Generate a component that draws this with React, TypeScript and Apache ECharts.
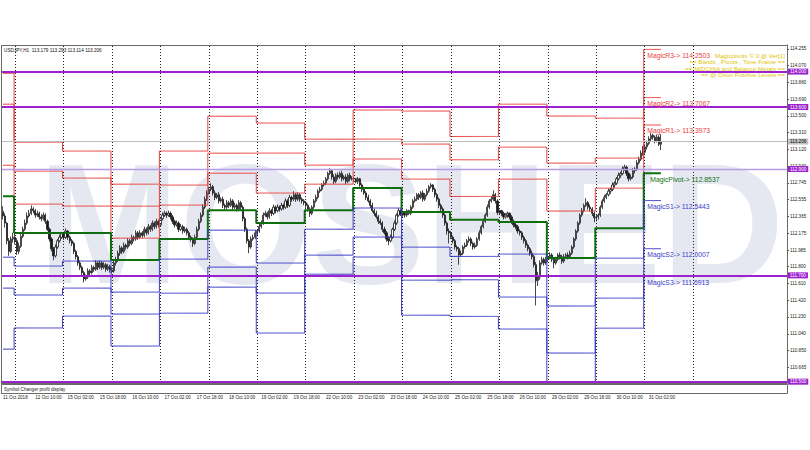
import React, { useEffect, useRef } from "react";
import * as echarts from "echarts";

const FONT = '"Liberation Sans", Arial, sans-serif';

// ---- candles (H1, 11 Oct 2018 18:00 .. 31 Oct 2018 08:00) ----
const firstOpen = 112.42;
const closes = [
  112.37,112.29,112.09,111.97,112.11,112.13,
  112.09,111.97,112.03,112.14,112.22,112.29,112.37,112.40,112.45,112.43,112.38,112.40,112.36,112.34,112.38,112.31,112.22,112.11,112.00,111.92,112.02,112.09,112.13,112.17,
  112.13,112.20,112.13,112.09,112.06,111.97,111.91,111.84,111.79,111.73,111.66,111.68,111.75,111.73,111.79,111.77,111.84,111.79,111.84,111.79,111.82,111.77,111.80,111.76,
  111.75,111.84,111.88,111.95,112.01,111.97,112.04,112.02,112.09,112.06,112.13,112.11,112.18,112.13,112.18,112.15,112.22,112.18,112.25,112.22,112.29,112.25,112.31,112.27,
  112.34,112.38,112.40,112.38,112.40,112.36,112.31,112.27,112.29,112.22,112.25,112.20,112.22,112.18,112.13,112.11,112.06,112.13,112.22,112.31,112.38,112.47,112.56,112.63,
  112.67,112.70,112.63,112.58,112.61,112.54,112.56,112.49,112.47,112.52,112.49,112.54,112.47,112.49,112.45,112.52,112.47,112.34,112.22,112.09,112.02,112.11,112.13,112.18,
  112.20,112.25,112.29,112.38,112.40,112.36,112.43,112.40,112.47,112.43,112.47,112.45,112.49,112.47,112.54,112.49,112.58,112.56,112.61,112.56,112.61,112.56,112.54,112.52,
  112.49,112.45,112.40,112.47,112.54,112.58,112.65,112.67,112.72,112.74,112.79,112.85,112.88,112.81,112.76,112.83,112.81,112.85,112.79,112.81,112.76,112.83,112.79,112.79,
  112.79,112.76,112.79,112.72,112.67,112.63,112.58,112.54,112.49,112.43,112.40,112.36,112.31,112.29,112.22,112.18,112.11,112.09,112.13,112.22,112.29,112.38,112.43,112.39,
  112.40,112.38,112.43,112.40,112.47,112.54,112.56,112.61,112.58,112.63,112.56,112.61,112.65,112.70,112.72,112.67,112.61,112.56,112.49,112.45,112.38,112.29,112.20,112.18,
  112.13,112.09,112.02,112.00,111.93,111.95,112.02,112.04,112.09,112.11,112.06,112.02,112.04,112.11,112.18,112.25,112.31,112.38,112.47,112.54,112.56,112.61,112.54,112.41,
  112.43,112.40,112.36,112.38,112.40,112.36,112.31,112.27,112.25,112.20,112.18,112.13,112.09,112.04,112.00,111.95,111.91,111.82,111.64,111.68,111.84,111.88,111.84,111.88,
  111.91,111.93,111.88,111.84,111.88,111.93,111.91,111.86,111.91,111.93,111.91,111.95,112.02,112.11,112.20,112.29,112.38,112.43,112.49,112.52,112.47,112.45,112.40,112.35,
  112.36,112.38,112.47,112.54,112.58,112.61,112.65,112.67,112.72,112.74,112.79,112.83,112.85,112.90,112.92,112.85,112.79,112.81,112.88,112.90,112.97,113.01,113.08,113.09,
  113.15,113.19,113.24,113.28,113.26,113.22,113.26,113.18,113.206,
];
const highs = [
  112.48,112.40,112.30,112.12,112.14,112.18,
  112.17,112.12,112.07,112.18,112.25,112.33,112.41,112.44,112.49,112.47,112.45,112.43,112.42,112.39,112.41,112.40,112.33,112.24,112.13,112.02,112.05,112.11,112.16,112.19,
  112.19,112.23,112.21,112.15,112.11,112.08,111.99,111.93,111.87,111.81,111.75,111.71,111.78,111.77,111.82,111.81,111.87,111.86,111.87,111.86,111.85,111.84,111.83,111.82,
  111.79,111.87,111.91,111.98,112.04,112.03,112.07,112.06,112.12,112.11,112.16,112.15,112.21,112.20,112.21,112.20,112.25,112.24,112.28,112.27,112.32,112.31,112.34,112.33,
  112.36,112.41,112.43,112.42,112.43,112.42,112.38,112.33,112.32,112.31,112.28,112.27,112.25,112.24,112.20,112.15,112.13,112.16,112.25,112.34,112.41,112.50,112.59,112.66,
  112.70,112.74,112.72,112.66,112.63,112.64,112.58,112.59,112.51,112.55,112.54,112.57,112.56,112.52,112.51,112.55,112.54,112.49,112.36,112.24,112.11,112.14,112.16,112.21,
  112.22,112.28,112.32,112.41,112.43,112.42,112.46,112.45,112.50,112.49,112.50,112.49,112.52,112.51,112.57,112.56,112.61,112.60,112.65,112.63,112.64,112.63,112.58,112.56,
  112.54,112.51,112.47,112.49,112.56,112.61,112.67,112.70,112.74,112.77,112.81,112.87,112.91,112.90,112.84,112.85,112.86,112.87,112.88,112.83,112.84,112.85,112.86,112.82,
  112.81,112.80,112.81,112.80,112.74,112.70,112.65,112.61,112.56,112.52,112.45,112.43,112.38,112.34,112.31,112.25,112.20,112.14,112.16,112.24,112.32,112.40,112.46,112.45,
  112.42,112.42,112.45,112.44,112.49,112.56,112.59,112.63,112.63,112.65,112.66,112.63,112.68,112.72,112.74,112.73,112.69,112.63,112.58,112.51,112.47,112.40,112.31,112.23,
  112.20,112.15,112.11,112.04,112.02,111.98,112.04,112.07,112.11,112.14,112.13,112.08,112.07,112.13,112.21,112.27,112.34,112.40,112.50,112.56,112.59,112.66,112.63,112.56,
  112.44,112.44,112.42,112.40,112.42,112.41,112.38,112.33,112.29,112.27,112.22,112.20,112.15,112.11,112.06,112.02,111.98,111.93,111.85,111.74,111.87,111.91,111.90,111.91,
  111.94,111.96,111.95,111.90,111.91,111.95,111.96,111.93,111.94,111.95,111.96,111.98,112.04,112.13,112.22,112.31,112.40,112.46,112.51,112.57,112.54,112.50,112.47,112.42,
  112.38,112.40,112.49,112.56,112.61,112.63,112.68,112.69,112.75,112.76,112.81,112.86,112.87,112.93,112.95,112.94,112.87,112.84,112.91,112.92,113.00,113.04,113.11,113.16,
  113.18,113.22,113.27,113.31,113.30,113.28,113.29,113.28,113.293,
];
const lows = [
  112.33,112.24,112.05,111.92,111.95,112.07,
  112.05,111.93,111.94,112.01,112.12,112.20,112.27,112.35,112.38,112.40,112.35,112.36,112.33,112.31,112.32,112.28,112.20,112.08,111.97,111.87,111.90,112.00,112.07,112.11,
  112.10,112.11,112.10,112.06,112.03,111.94,111.88,111.81,111.76,111.70,111.62,111.64,111.66,111.70,111.71,111.74,111.75,111.76,111.77,111.76,111.77,111.74,111.75,111.73,
  111.72,111.73,111.81,111.85,111.92,111.94,111.95,111.99,112.00,112.03,112.04,112.08,112.09,112.10,112.11,112.12,112.13,112.15,112.16,112.19,112.20,112.22,112.23,112.24,
  112.25,112.32,112.36,112.35,112.36,112.33,112.28,112.24,112.25,112.19,112.20,112.17,112.18,112.15,112.10,112.08,112.02,112.04,112.11,112.20,112.29,112.36,112.45,112.54,
  112.61,112.65,112.60,112.55,112.56,112.51,112.52,112.46,112.44,112.45,112.46,112.47,112.44,112.45,112.42,112.43,112.44,112.31,112.19,112.06,111.95,112.00,112.09,112.11,
  112.14,112.18,112.23,112.27,112.36,112.33,112.34,112.37,112.38,112.40,112.41,112.42,112.43,112.44,112.45,112.46,112.47,112.53,112.54,112.53,112.54,112.53,112.51,112.49,
  112.46,112.42,112.36,112.38,112.45,112.52,112.56,112.63,112.65,112.70,112.72,112.77,112.83,112.78,112.73,112.74,112.78,112.79,112.76,112.77,112.73,112.74,112.76,112.77,
  112.76,112.74,112.73,112.70,112.64,112.61,112.55,112.52,112.46,112.41,112.37,112.34,112.28,112.27,112.19,112.16,112.08,112.04,112.07,112.11,112.20,112.27,112.36,112.37,
  112.36,112.35,112.36,112.38,112.38,112.45,112.52,112.54,112.55,112.56,112.53,112.54,112.59,112.63,112.68,112.64,112.58,112.53,112.46,112.42,112.35,112.26,112.16,112.06,
  112.11,112.06,111.99,111.97,111.82,111.91,111.93,112.00,112.02,112.07,112.03,111.99,112.00,112.02,112.09,112.16,112.23,112.29,112.36,112.45,112.52,112.54,112.51,112.38,
  112.38,112.37,112.33,112.34,112.35,112.33,112.28,112.24,112.22,112.17,112.15,112.10,112.06,112.01,111.97,111.92,111.88,111.79,111.36,111.58,111.65,111.82,111.81,111.82,
  111.85,111.88,111.85,111.78,111.82,111.86,111.88,111.83,111.84,111.89,111.88,111.89,111.93,112.00,112.09,112.18,112.27,112.36,112.41,112.47,112.44,112.42,112.37,112.30,
  112.31,112.33,112.36,112.45,112.52,112.56,112.59,112.62,112.65,112.69,112.72,112.77,112.80,112.83,112.88,112.82,112.76,112.77,112.79,112.85,112.88,112.95,112.99,113.05,
  113.06,113.12,113.17,113.21,113.23,113.19,113.20,113.16,113.114,
];

// ---- daily pivot inputs: previous day's high / low / close for each trading day shown ----
const dayStarts = [0, 6, 30, 54, 78, 102, 126, 150, 174, 198, 222, 246, 270, 294, 318];
const prevHigh = [113.283, 112.549, 112.493, 112.233, 112.335, 112.662, 112.741, 112.651, 112.91, 112.809, 112.741, 112.662, 112.436, 112.572, 113.1631];
const prevLow = [112.245, 111.85, 111.872, 111.624, 111.725, 112.019, 111.951, 112.143, 112.357, 112.041, 112.064, 111.816, 111.364, 111.782, 112.3101];
const prevClose = [112.254, 112.132, 112.166, 111.759, 112.267, 112.627, 112.178, 112.514, 112.788, 112.391, 112.177, 112.425, 111.885, 112.345, 113.0879];

// ---- axes / annotations ----
const tickLabels = [
  "11 Oct 2018", "12 Oct 10:00", "15 Oct 02:00", "15 Oct 18:00", "16 Oct 10:00", "17 Oct 02:00",
  "17 Oct 18:00", "18 Oct 10:00", "19 Oct 02:00", "19 Oct 18:00", "22 Oct 10:00", "23 Oct 02:00",
  "23 Oct 18:00", "24 Oct 10:00", "25 Oct 02:00", "25 Oct 18:00", "26 Oct 10:00", "29 Oct 02:00",
  "29 Oct 18:00", "30 Oct 10:00", "31 Oct 02:00",
];
const priceTicks = [114.255, 114.07, 113.88, 113.69, 113.5, 113.31, 113.12, 112.93, 112.745, 112.555, 112.365, 112.175, 111.985, 111.8, 111.61, 111.42, 111.23, 111.04, 110.85, 110.665];
const horizontalLevels = [114.0, 113.6, 112.9, 111.7, 110.5];
const bidPrice = 113.206;
const separatorBars = [6, 30, 54, 78, 102, 126, 150, 174, 198, 222, 246, 270, 294, 318, 342];
const slotCount = 389;
const yMin = 110.485;
const yMax = 114.3;

const headerText = "USDJPY,H1  113.179 113.293 113.114 113.206";
const infoLines = [
  "Magicpivots \u00a9 0 @ Ver[1]",
  "== Bands , Pivots , Time Frame ==",
  "== MIDCHIA and Balance Metals ==",
  "== @ Orion Positive Levels ==",
];
const subWindowTitle = "Symbol Changer profit display";
const watermark = "MOSHED";

const levelNames = ["R3", "R2", "R1", "Pivot", "S1", "S2", "S3"];
const levelColors: Record<string, string> = {
  R3: "#e8413c", R2: "#e8413c", R1: "#e8413c", Pivot: "#0f6e0f", S1: "#3b3bc9", S2: "#3b3bc9", S3: "#3b3bc9",
};

function pivotLevels(d: number): Record<string, number> {
  const H = prevHigh[d], L = prevLow[d], C = prevClose[d];
  const P = (H + L + C) / 3;
  return {
    R3: H + 2 * (P - L),
    R2: P + (H - L),
    R1: 2 * P - L,
    Pivot: P,
    S1: 2 * P - H,
    S2: P - (H - L),
    S3: L - 2 * (H - P),
  };
}

export default function App() {
  const ref = useRef<HTMLDivElement>(null);

  useEffect(() => {
    if (!ref.current) return;
    const chart = echarts.init(ref.current, null, { renderer: "svg" });

    const categories = Array.from({ length: slotCount }, (_, i) => String(i));
    const candleData = closes.map((c, i) => [i === 0 ? firstOpen : closes[i - 1], c, lows[i], highs[i]]);

    const dayLevels = dayStarts.map((_, d) => pivotLevels(d));
    const dayOf = (i: number) => {
      let d = 0;
      for (let k = 0; k < dayStarts.length; k++) if (dayStarts[k] <= i) d = k;
      return d;
    };
    const lastDay = dayStarts.length - 1;
    const lastStart = dayStarts[lastDay];

    const levelSeries = levelNames.map((name) => {
      const color = levelColors[name];
      const isPivot = name === "Pivot";
      const lastVal = dayLevels[lastDay][name];
      return {
        type: "line",
        name,
        data: closes.map((_, i) => dayLevels[dayOf(i)][name]),
        step: "middle",
        showSymbol: false,
        symbol: "none",
        silent: true,
        z: 3,
        lineStyle: { color, width: isPivot ? 2 : 1 },
        markPoint: {
          symbol: "rect",
          symbolSize: 1,
          silent: true,
          itemStyle: { color: "rgba(0,0,0,0)" },
          data: [
            {
              coord: [lastStart, lastVal],
              label: {
                show: true,
                position: "right",
                distance: 1,
                offset: [isPivot ? 4 : 1, 6],
                formatter: `Magic${name}-> ${lastVal.toFixed(4)}`,
                color,
                fontSize: 6.8,
                fontFamily: FONT,
              },
            },
          ],
        },
      };
    });

    const option: any = {
      animation: false,
      backgroundColor: "#ffffff",
      grid: { left: 2, right: 23, top: 45, bottom: 67, containLabel: false },
      xAxis: {
        type: "category",
        data: categories,
        boundaryGap: true,
        axisLine: { show: true, lineStyle: { color: "#6a6a6a", width: 1 } },
        axisTick: { show: false },
        splitLine: { show: false },
        axisLabel: {
          interval: 15,
          align: "left",
          margin: 12,
          fontSize: 4.6,
          fontFamily: FONT,
          color: "#222",
          formatter: (_v: string, idx: number) => (idx % 16 === 0 && tickLabels[idx / 16]) || "",
        },
      },
      yAxis: {
        type: "value",
        position: "right",
        min: yMin,
        max: yMax,
        scale: true,
        splitLine: { show: false },
        axisLine: { show: true, lineStyle: { color: "#6a6a6a", width: 1 } },
        axisTick: { show: true, length: 2, customValues: priceTicks, lineStyle: { color: "#555" } },
        axisLabel: {
          customValues: priceTicks,
          margin: 3,
          fontSize: 4.6,
          fontFamily: FONT,
          color: "#222",
          formatter: (v: number) => v.toFixed(3),
        },
      },
      graphic: {
        elements: [
          {
            type: "text",
            x: 38,
            y: 224,
            z: 0,
            silent: true,
            style: {
              text: watermark,
              font: `bold 170px ${FONT}`,
              fill: "#e5e8f0",
              textAlign: "left",
              textVerticalAlign: "middle",
            },
          },
          { type: "line", z: 50, silent: true, shape: { x1: 1, y1: 45.5, x2: 787.5, y2: 45.5 }, style: { stroke: "#6a6a6a", lineWidth: 1 } },
          { type: "line", z: 50, silent: true, shape: { x1: 1.5, y1: 45, x2: 1.5, y2: 393.5 }, style: { stroke: "#6a6a6a", lineWidth: 1 } },
          { type: "rect", z: 50, silent: true, shape: { x: 1.5, y: 384.5, width: 786, height: 9 }, style: { fill: "#fff", stroke: "#6a6a6a", lineWidth: 1 } },
          { type: "text", z: 60, silent: true, x: 4, y: 389, style: { text: subWindowTitle, font: `4.6px ${FONT}`, fill: "#222", textVerticalAlign: "middle" } },
          { type: "text", z: 60, silent: true, x: 4, y: 50, style: { text: headerText, font: `4.7px ${FONT}`, fill: "#111", textVerticalAlign: "middle" } },
          ...infoLines.map((t, k) => ({
            type: "text",
            z: 60,
            silent: true,
            x: 785,
            y: 55 + k * 6.6,
            style: { text: t, font: `6.2px ${FONT}`, fill: "#e2c400", textAlign: "right", textVerticalAlign: "middle" },
          })),
        ],
      },
      series: [
        {
          type: "line",
          data: [],
          silent: true,
          z: 1,
          markLine: {
            symbol: ["none", "none"],
            silent: true,
            label: { show: false },
            lineStyle: { color: "#222", width: 1, type: [1, 2] },
            data: separatorBars.map((b) => ({ xAxis: b })),
          },
        },
        {
          type: "candlestick",
          data: candleData,
          z: 2,
          barWidth: 1.7,
          silent: true,
          itemStyle: {
            color: "#ffffff",
            color0: "#1a1a1a",
            borderColor: "#1a1a1a",
            borderColor0: "#1a1a1a",
            borderWidth: 0.8,
          },
        },
        ...levelSeries,
        {
          type: "line",
          data: [],
          silent: true,
          z: 10,
          markLine: {
            symbol: ["none", "none"],
            silent: true,
            data: [
              {
                yAxis: bidPrice,
                lineStyle: { color: "#bdbdbd", width: 1, type: "solid" },
                label: {
                  show: true, position: "end", distance: 1, formatter: bidPrice.toFixed(3),
                  backgroundColor: "#c4c4c4", color: "#000", fontSize: 4.6, fontFamily: FONT, padding: [1, 2, 0, 2],
                },
              },
              ...horizontalLevels.map((v, k) => ({
                yAxis: v,
                lineStyle: { color: k === 2 ? "#b69ce6" : "#9d22cf", width: k === 2 ? 1.3 : 2, type: "solid" },
                label: {
                  show: true, position: "end", distance: 1, formatter: v.toFixed(3),
                  backgroundColor: "#9d22cf", color: "#fff", fontSize: 4.6, fontFamily: FONT, padding: [1, 2, 0, 2],
                },
              })),
            ],
          },
        },
      ],
    };

    chart.setOption(option);
    return () => chart.dispose();
  }, []);

  return (
    <div
      ref={ref}
      style={{ position: "absolute", left: 0, top: 0, width: 810, height: 450, background: "#fff" }}
    />
  );
}
